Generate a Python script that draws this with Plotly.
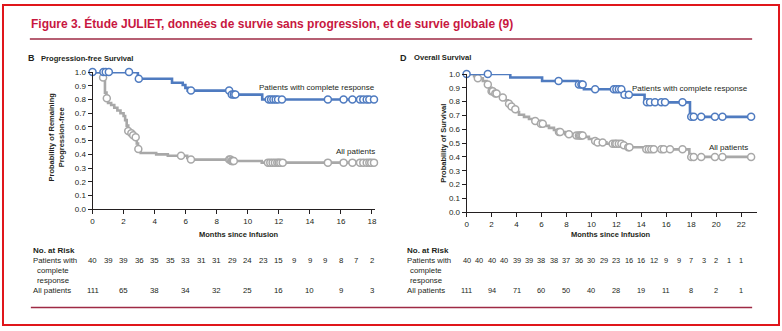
import plotly.graph_objects as go

W, H = 782, 331

# ---------------- data ----------------
# PFS (panel B)
pfs_cr_t = [0, 2.92, 5.12, 5.81, 5.98, 6.13, 8.85, 10.93, 18.15]
pfs_cr_s = [1.0, 0.952, 0.922, 0.906, 0.885, 0.865, 0.836, 0.80, 0.80]
pfs_cr_cens = [0, 0.7, 0.85, 1.05, 2.35, 2.98, 6.34, 8.8, 8.97, 9.1, 9.2,
               11.35, 11.5, 11.65, 11.8, 11.95, 12.2, 15.16, 16.17, 16.74,
               17.23, 17.44, 17.66, 17.83, 18.13]

pfs_all_t = [0, 0.6, 0.8, 0.9, 1.0, 1.2, 1.4, 1.6, 1.8, 2.0, 2.1, 2.2, 2.3,
             2.45, 2.6, 2.75, 2.85, 2.93, 3.1, 4.1, 4.85, 6.1, 6.3, 8.9, 10.9, 18.15]
pfs_all_s = [1.0, 0.96, 0.85, 0.81, 0.775, 0.76, 0.74, 0.72, 0.70, 0.68, 0.65,
             0.61, 0.57, 0.555, 0.54, 0.525, 0.48, 0.44, 0.41, 0.40, 0.39, 0.375,
             0.362, 0.352, 0.34, 0.34]
pfs_all_cens = [0.68, 0.92, 2.3, 2.5, 2.62, 2.78, 2.95, 5.7, 6.34, 8.8, 8.88,
                8.95, 9.0, 9.05, 9.1, 11.3, 11.45, 11.6, 11.75, 11.9, 12.0, 12.1,
                12.25, 15.16, 16.17, 16.74, 17.23, 17.44, 17.66, 17.83, 17.95, 18.13]

# OS (panel D)
os_cr_t = [0, 3.5, 6.05, 8.9, 9.4, 12.5, 14.26, 17.9, 22.8]
os_cr_s = [1.0, 0.975, 0.95, 0.925, 0.89, 0.85, 0.795, 0.69, 0.69]
os_cr_cens = [0, 1.7, 7.37, 9.0, 9.2, 9.3, 10.3, 11.8, 12.0, 12.2, 12.4, 12.65,
              13.0, 14.45, 14.7, 15.1, 15.6, 15.9, 17.3, 18.0, 18.2, 18.8, 19.9,
              20.5, 22.8]

os_all_t = [0, 0.6, 0.9, 1.3, 1.6, 1.8, 2.0, 2.2, 2.5, 2.8, 3.1, 3.3, 3.5, 3.7,
            4.0, 4.2, 4.6, 5.0, 5.5, 5.9, 6.2, 6.6, 7.0, 7.4, 7.9, 8.5, 9.4, 9.8,
            10.1, 10.5, 11.2, 12.6, 12.9, 14.3, 17.85, 22.8]
os_all_s = [1.0, 0.985, 0.97, 0.95, 0.925, 0.90, 0.875, 0.86, 0.845, 0.83, 0.81,
            0.785, 0.765, 0.745, 0.725, 0.705, 0.69, 0.675, 0.66, 0.64, 0.625,
            0.61, 0.595, 0.58, 0.565, 0.555, 0.545, 0.53, 0.515, 0.505, 0.495,
            0.485, 0.47, 0.455, 0.40, 0.40]
os_all_cens = [0.9, 1.7, 2.0, 2.1, 2.3, 2.4, 2.9, 3.4, 3.6, 3.9, 5.5, 5.95, 6.1,
               7.4, 7.5, 8.2, 8.8, 9.0, 9.1, 9.2, 9.3, 10.3, 10.5, 10.9, 11.7,
               11.9, 12.0, 12.2, 12.4, 12.6, 12.95, 13.05, 14.4, 14.6, 14.8, 15.0,
               15.6, 15.8, 16.3, 17.3, 18.0, 18.2, 18.8, 19.9, 20.5, 22.8]

# numbers at risk
pfs_risk_cr_months = list(range(0, 19))
pfs_risk_cr = [40, 39, 39, 36, 35, 35, 33, 31, 31, 29, 24, 23, 15, 9, 9, 9, 8, 7, 2]
pfs_risk_all_months = list(range(0, 19, 2))
pfs_risk_all = [111, 65, 38, 34, 32, 25, 16, 10, 9, 3]

os_risk_cr_months = list(range(0, 23))
os_risk_cr = [40, 40, 40, 40, 39, 39, 38, 38, 37, 36, 30, 29, 23, 16, 16, 12, 9, 9, 7, 3, 2, 1, 1]
os_risk_all_months = list(range(0, 23, 2))
os_risk_all = [111, 94, 71, 60, 50, 40, 28, 19, 11, 8, 2, 1]

pfs_xticks = list(range(0, 19, 2))
os_xticks = list(range(0, 23, 2))
yticks = [i / 10 for i in range(11)]

# ---------------- style ----------------
BLUE = "#4f7bc0"
GRAY = "#a8a8a8"
TXT = "#231f20"
CRIMSON = "#c8173f"
MAROON = "#9e2a44"
FONT = "Liberation Sans, Arial, sans-serif"


def px(x):
    return x / W


def py(y):
    return 1 - y / H


def step_val(t_list, s_list, t):
    v = s_list[0]
    for tt, ss in zip(t_list, s_list):
        if tt <= t:
            v = ss
    return v


fig = go.Figure()


def add_curve(t, s, cens, color, xa, ya):
    fig.add_trace(go.Scatter(x=t, y=s, mode="lines", line=dict(color=color, width=2.6, shape="hv"),
                             xaxis=xa, yaxis=ya, showlegend=False, hoverinfo="skip", cliponaxis=False))
    fig.add_trace(go.Scatter(x=cens, y=[step_val(t, s, c) for c in cens], mode="markers",
                             marker=dict(symbol="circle", size=7, color="white",
                                         line=dict(color=color, width=1.5)),
                             xaxis=xa, yaxis=ya, showlegend=False, hoverinfo="skip", cliponaxis=False))


add_curve(pfs_all_t, pfs_all_s, pfs_all_cens, GRAY, "x", "y")
add_curve(pfs_cr_t, pfs_cr_s, pfs_cr_cens, BLUE, "x", "y")
add_curve(os_all_t, os_all_s, os_all_cens, GRAY, "x2", "y2")
add_curve(os_cr_t, os_cr_s, os_cr_cens, BLUE, "x2", "y2")

axis_common = dict(showgrid=False, zeroline=False, showline=True, linecolor=TXT, linewidth=1,
                   ticks="outside", ticklen=4, tickwidth=1, tickcolor=TXT,
                   tickfont=dict(family=FONT, size=8, color=TXT), fixedrange=True)

fig.update_layout(
    width=W, height=H, margin=dict(l=0, r=0, t=0, b=0),
    paper_bgcolor="white", plot_bgcolor="white",
    xaxis=dict(domain=[px(91), px(375)], range=[0, 18.2], tickvals=pfs_xticks, anchor="y", **axis_common),
    yaxis=dict(domain=[py(211), py(70)], range=[0, 1.0], tickvals=yticks, tickformat=".1f", anchor="x", **axis_common),
    xaxis2=dict(domain=[px(467), px(759)], range=[0, 23.28], tickvals=os_xticks, anchor="y2", **axis_common),
    yaxis2=dict(domain=[py(214), py(72)], range=[0, 1.0], tickvals=yticks, tickformat=".1f", anchor="x2", **axis_common),
)

ann = []


def text(x, y, s, size=8, bold=False, color=TXT, xanchor="left", xref="paper", textangle=0, align="left"):
    if bold:
        s = "<b>" + s + "</b>"
    ann.append(dict(x=x if xref != "paper" else px(x), y=py(y), text=s,
                    xref=xref, yref="paper", showarrow=False, xanchor=xanchor, yanchor="middle",
                    font=dict(family=FONT, size=size, color=color), textangle=textangle, align=align))


# title
text(27, 20, "Figure 3. Étude JULIET, données de survie sans progression, et de survie globale (9)",
     size=12, bold=True, color=CRIMSON)

# panel labels
text(24, 56, "B", size=9, bold=True)
text(37, 56, "Progression-free Survival", size=7.6, bold=True)
text(398, 55, "D", size=9, bold=True)
text(412, 55, "Overall Survival", size=7.6, bold=True)

# curve labels
text(377, 86, "Patients with complete response", size=8, xanchor="right")
text(377, 152, "All patients", size=8, xanchor="right")
text(752, 87, "Patients with complete response", size=8, xanchor="right")
text(752, 148, "All patients", size=8, xanchor="right")

# axis titles
text(238, 237, "Months since Infusion", size=7.5, bold=True, xanchor="center")
text(612, 237, "Months since Infusion", size=7.5, bold=True, xanchor="center")
text(54.5, 137, "Probability of Remaining<br>Progression-free", size=7.5, bold=True, xanchor="center",
     textangle=-90, align="center")
text(443, 143, "Probability of Survival", size=7.5, bold=True, xanchor="center", textangle=-90)

# number at risk tables
for x0, right in ((29, 69.5), (405, 444)):
    text(x0, 253, "No. at Risk", size=8, bold=True)
    text(x0, 264, "Patients with", size=7.8)
    text(right, 274, "complete", size=7.8, xanchor="right")
    text(right, 284, "response", size=7.8, xanchor="right")
    text(x0, 294, "All patients", size=7.8)

for m, v in zip(pfs_risk_cr_months, pfs_risk_cr):
    text(m, 264, str(v), size=7.8, xanchor="center", xref="x")
for m, v in zip(pfs_risk_all_months, pfs_risk_all):
    text(m, 294, str(v), size=7.8, xanchor="center", xref="x")
for m, v in zip(os_risk_cr_months, os_risk_cr):
    text(m, 264, str(v), size=7.4, xanchor="center", xref="x2")
for m, v in zip(os_risk_all_months, os_risk_all):
    text(m, 294, str(v), size=7.4, xanchor="center", xref="x2")

fig.update_layout(annotations=ann)

# decorative lines and frame
fig.add_shape(type="line", xref="paper", yref="paper", x0=px(28), x1=px(754), y0=py(36), y1=py(36),
              line=dict(color=MAROON, width=1.5))
fig.add_shape(type="line", xref="paper", yref="paper", x0=px(29), x1=px(754), y0=py(312), y1=py(312),
              line=dict(color=MAROON, width=1.5))
fig.add_shape(type="rect", xref="paper", yref="paper", x0=px(1), x1=px(781), y0=py(330), y1=py(1),
              line=dict(color="#e0161b", width=2))

fig.write_html("out.html")
